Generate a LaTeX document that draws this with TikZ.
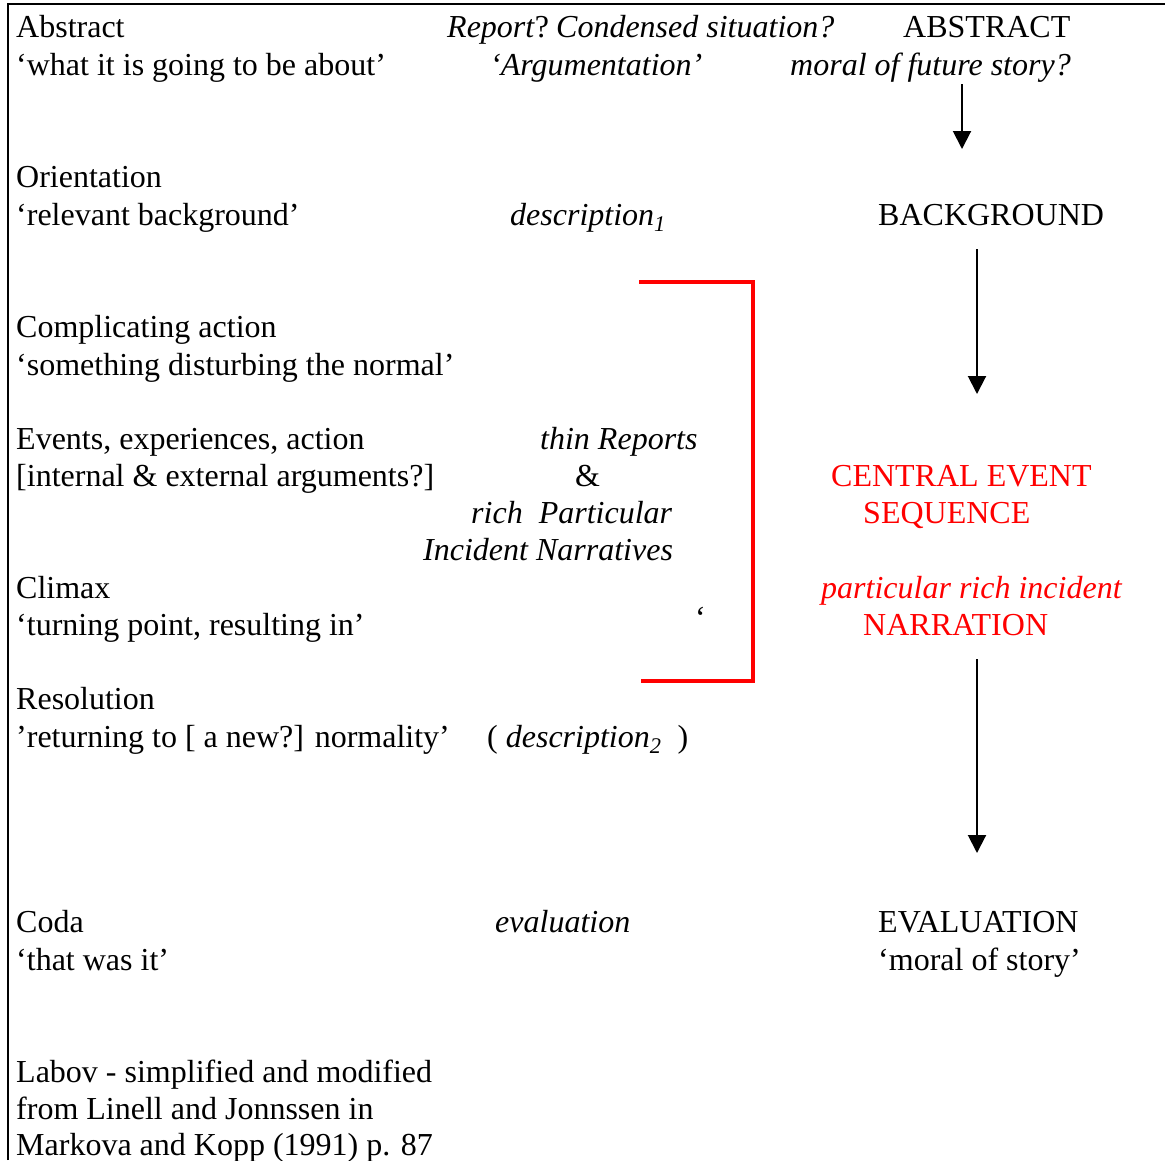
\documentclass[tikz,border=0pt]{standalone}
\usepackage{fontspec}
\setmainfont{Liberation Serif}
\usetikzlibrary{arrows.meta}

\tikzset{
  txt/.style={anchor=base west, inner sep=0pt, font=\fontsize{32}{38}\selectfont},
  rtxt/.style={txt, text=red},
  down/.style={line width=2pt, -{Triangle[length=18pt,width=18pt]}},
  bracket/.style={line width=4pt, red},
}

\begin{document}
\begin{tikzpicture}[x=1pt,y=-1pt]

  \useasboundingbox (0,0) rectangle (1165,1160);
  \draw[line width=2pt] (8,1160) -- (8,4) -- (1165,4);

  \node[txt] (abstract) at (16,37) {Abstract};
  \node[txt] (about) at (16,75) {`what it is going to be about'};
  \node[txt] (report) at (447,37) {\textit{Report}?\hspace{0.22em}\textit{Condensed situation?}};
  \node[txt] (argu) at (490,75) {\textit{`Argumentation'}};
  \node[txt] (ABS) at (903,37) {ABSTRACT};
  \node[txt] (future) at (790,75) {\textit{moral of future story?}};

  \node[txt] (orient) at (16,187) {Orientation};
  \node[txt] (backgr) at (16,225) {`relevant background'};
  \node[txt] (desc1) at (510,225) {\textit{description\textsubscript{1}}};
  \node[txt] (BACK) at (878,225) {BACKGROUND};

  \node[txt] (compl) at (16,337) {Complicating action};
  \node[txt] (disturb) at (16,375) {`something disturbing the normal'};

  \node[txt] (events) at (16,449) {Events, experiences, action};
  \node[txt] (intext) at (16,486) {[internal \& external arguments?]};
  \node[txt] (thin) at (540,449) {\textit{thin Reports}};
  \node[txt] (amp) at (575,486) {\&};
  \node[txt] (rich) at (471,523) {\textit{rich\ \ Particular}};
  \node[txt] (incid) at (423,560) {\textit{Incident Narratives}};
  \node[rtxt] (CENTRAL) at (831,486) {CENTRAL EVENT};
  \node[rtxt] (SEQ) at (863,523) {SEQUENCE};

  \node[txt] (climax) at (16,598) {Climax};
  \node[txt] (turning) at (16,635) {`turning point, resulting in'};
  \node[txt] (quote) at (695,628) {`};
  \node[rtxt] (partic) at (821,598) {\textit{particular rich incident}};
  \node[rtxt] (NARR) at (863,635) {NARRATION};

  \node[txt] (resol) at (16,709) {Resolution};
  \node[txt] (return) at (16,747) {'returning to [ a new?] normality'};
  \node[txt] (desc2) at (487,747) {( \textit{description\textsubscript{2}} \ )};

  \node[txt] (coda) at (16,932) {Coda};
  \node[txt] (wasit) at (16,970) {`that was it'};
  \node[txt] (evalu) at (495,932) {\textit{evaluation}};
  \node[txt] (EVAL) at (878,932) {EVALUATION};
  \node[txt] (moral) at (878,970) {`moral of story'};

  \node[txt] (labov) at (16,1082) {Labov - simplified and modified};
  \node[txt] (linell) at (16,1119) {from Linell and Jonnssen in};
  \node[txt] (markova) at (16,1155) {Markova and Kopp (1991) p. 87};

  \coordinate (a1s) at (962,84);
  \coordinate (a1e) at (962,149);
  \coordinate (a2s) at (977,249);
  \coordinate (a2e) at (977,394);
  \coordinate (a3s) at (977,659);
  \coordinate (a3e) at (977,853);
  \draw[down] (a1s) -- (a1e);
  \draw[down] (a2s) -- (a2e);
  \draw[down] (a3s) -- (a3e);

  \draw[bracket] (639,282) -- (753,282) -- (753,681) -- (641,681);

\end{tikzpicture}
\end{document}
